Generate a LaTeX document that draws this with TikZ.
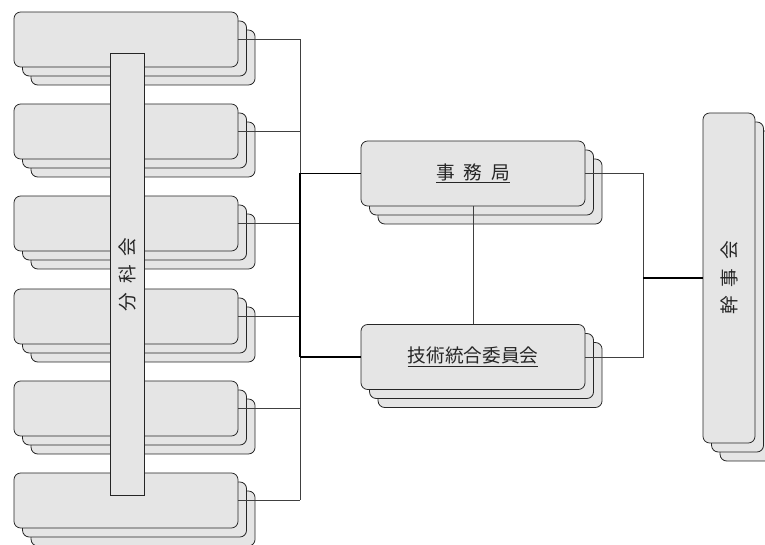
\documentclass[tikz,border=0pt]{standalone}
\usepackage{fontspec}
\newfontfamily\jpfont[WordSpace=2.1]{Noto Sans CJK JP}
\usetikzlibrary{shadows,positioning,calc}

\begin{document}
\begin{tikzpicture}[x=0.75pt, y=-0.75pt,
        unit/.style={
            rectangle, draw=black!85, line width=0.6pt, fill=black!10,
            rounded corners=5pt, inner sep=0pt,
            minimum width=168pt, minimum height=41.25pt,
            font=\jpfont\fontsize{14}{16}\selectfont, text=black!85,
            copy shadow={shadow xshift=12.8pt, shadow yshift=-13.5pt},
            copy shadow={shadow xshift=6.4pt, shadow yshift=-6.75pt}
          },
        bar/.style={
            rectangle, draw=black!85, line width=0.6pt, fill=black!10,
            inner sep=0pt, font=\jpfont\fontsize{14}{16}\selectfont, text=black!85
          },
        link/.style={draw=black!75, line width=0.6pt},
        trunk/.style={draw=black, line width=0.85pt},
      ]
      \useasboundingbox (0,0) rectangle (765,545);

      % Left column: six stacked units
      \foreach \i/\y in {1/39.5, 2/131.5, 3/223.5, 4/316.5, 5/408.5, 6/500.5}
        \node [unit] (unit\i) at (126, \y) {};

      % Vertical bar over the units
      \node [bar, minimum width=25.5pt, minimum height=332pt] (bunka) at (127, 274.5)
        {\rotatebox{90}{分 科 会}};

      % Middle column
      \node [unit, minimum height=48.75pt] (jimu) at (473, 173.5) {\underline{事 務 局}};
      \node [unit, minimum height=48.75pt] (gijutsu) at (473, 357) {\underline{技術統合委員会}};

      % Right column
      \node [unit, minimum width=39pt, minimum height=247.5pt] (kanji) at (729, 278)
        {\rotatebox{90}{幹 事 会}};

      % Bus lines
      \coordinate (lbus) at (300, 0);
      \coordinate (rbus) at (643, 0);
      \coordinate (ltop) at (300, 39.5);
      \coordinate (lbot) at (300, 500.5);
      \coordinate (rjoin) at (643, 278);

      % Relationships
      \foreach \i in {1,...,6}
        \draw [link] (unit\i.east) -- (unit\i.east -| lbus);
      \draw [link] (ltop) -- (lbot);
      \draw [trunk] (jimu.west -| lbus) -- (gijutsu.west -| lbus);
      \draw [trunk] (jimu.west -| lbus) -- (jimu.west);
      \draw [trunk] (gijutsu.west -| lbus) -- (gijutsu.west);
      \draw [link] (jimu.south) -- (gijutsu.north);
      \draw [link] (jimu.east) -- (jimu.east -| rbus) -- (gijutsu.east -| rbus) -- (gijutsu.east);
      \draw [trunk] (rjoin) -- (kanji.west);
    \end{tikzpicture}
\end{document}
